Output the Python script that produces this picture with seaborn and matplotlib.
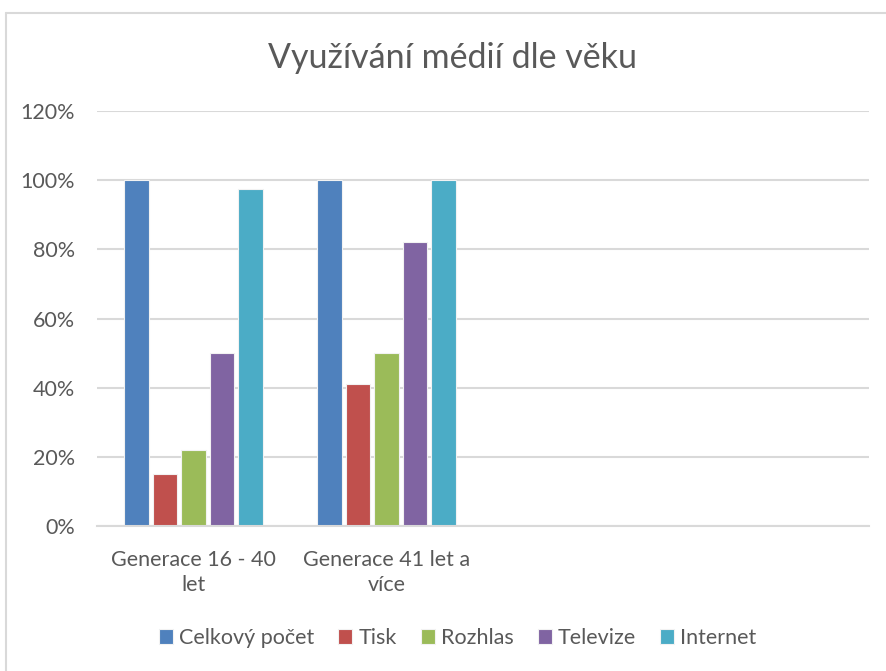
import textwrap
import pandas as pd
import matplotlib.pyplot as plt
import seaborn as sns
from matplotlib.ticker import PercentFormatter

sns.set_theme(style="white")
plt.rcParams["font.family"] = ["Lato", "DejaVu Sans"]

# Data
categories = ["Generace 16 - 40 let", "Generace 41 let a více"]
empty_slots = [" ", "  "]
series = ["Celkový počet", "Tisk", "Rozhlas", "Televize", "Internet"]
gen_young = [100, 15, 22, 50, 97.5]
gen_old = [100, 41, 50, 82, 100]
colors = ["#4F81BD", "#C0504D", "#9BBB59", "#8064A2", "#4BACC6"]

df = pd.DataFrame({
    "kategorie": [categories[0]] * len(series) + [categories[1]] * len(series),
    "medium": series + series,
    "podil": gen_young + gen_old,
})

text_color = "#595959"
grid_color = "#D9D9D9"

fig = plt.figure(figsize=(8.87, 6.71), dpi=100)
ax = fig.add_axes([0.1094, 0.216, 0.8706, 0.6186])

sns.barplot(data=df, x="kategorie", y="podil", hue="medium",
            order=categories + empty_slots, hue_order=series,
            palette=colors, saturation=1, width=0.74, gap=0.14, ax=ax,
            edgecolor="#F2F2F2", linewidth=0.8, legend=True)

ax.set_ylim(0, 120)
ax.set_yticks(range(0, 121, 20))
ax.yaxis.set_major_formatter(PercentFormatter(decimals=0))
ax.set_xlim(-0.5, 3.5)
ax.yaxis.grid(True, color=grid_color, linewidth=1.5)
ax.set_axisbelow(True)
for side in ["left", "right", "top"]:
    ax.spines[side].set_visible(False)
ax.spines["bottom"].set_color(grid_color)
ax.spines["bottom"].set_linewidth(1.5)
ax.set_xlabel("")
ax.set_ylabel("")
ax.set_xticks(range(4))
ax.set_xticklabels([textwrap.fill(c, 17) for c in categories] + empty_slots,
                   linespacing=1.35)
ax.tick_params(axis="both", length=0, labelsize=15.5, colors=text_color)
ax.tick_params(axis="y", pad=16)
ax.tick_params(axis="x", pad=17)

handles, labels = ax.get_legend_handles_labels()
ax.get_legend().remove()
fig.legend(handles, labels, loc="center", bbox_to_anchor=(0.516, 1 - 638 / 671),
           ncol=5, frameon=False, fontsize=15.5, labelcolor=text_color,
           handlelength=0.65, handleheight=0.65, handletextpad=0.3, columnspacing=1.1)

fig.text(0.51, 1 - 58 / 671, "Využívání médií dle věku", ha="center", va="center",
         fontsize=24.5, color=text_color)

# chart frame (left and top edges visible in the crop)
fig.add_artist(plt.Line2D([6.5 / 887, 6.5 / 887], [0, 1 - 13 / 671],
                          color=grid_color, linewidth=1.5))
fig.add_artist(plt.Line2D([6.5 / 887, 1], [1 - 13 / 671, 1 - 13 / 671],
                          color=grid_color, linewidth=1.5))

fig.savefig("out.png", dpi=100)
